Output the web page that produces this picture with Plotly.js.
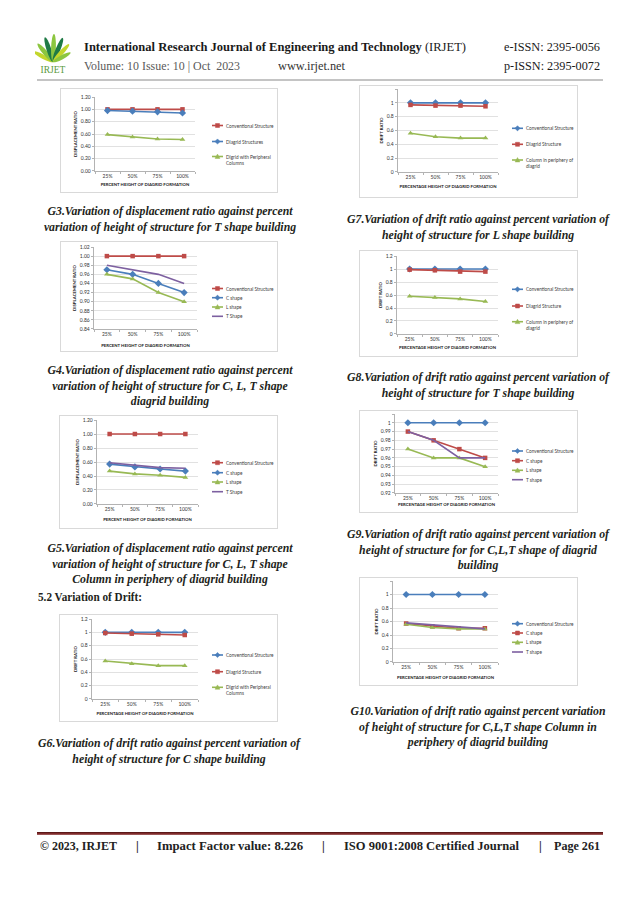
<!DOCTYPE html>
<html><head><meta charset="utf-8">
<script src="https://cdn.plot.ly/plotly-3.0.1.min.js"></script>
<style>
body{margin:0;background:#fff;width:638px;height:902px;position:relative;overflow:hidden;font-family:"Liberation Serif",serif;color:#222;}
.chart{position:absolute;border:1px solid #d9d9d9;box-sizing:border-box;background:#fff;}
.t{position:absolute;white-space:nowrap;}
.cap{position:absolute;width:340px;text-align:center;font-weight:bold;font-style:italic;font-size:11.5px;line-height:15.4px;color:#231f20;white-space:nowrap;}
</style></head><body>

<div id="logo" style="position:absolute;left:35px;top:30px;width:40px;height:46px;">
<svg width="40" height="46" viewBox="0 0 40 46">
 <g transform="translate(18,32)">
  <ellipse cx="0" cy="-11" rx="2.2" ry="11" fill="#c3d62c" transform="rotate(-62)"/>
  <ellipse cx="0" cy="-12" rx="2.4" ry="12" fill="#8cc63f" transform="rotate(-40)"/>
  <ellipse cx="0" cy="-13" rx="2.4" ry="13" fill="#1f7a45" transform="rotate(-18)"/>
  <ellipse cx="0" cy="-14" rx="2.4" ry="14" fill="#8cc63f" transform="rotate(2)"/>
  <ellipse cx="0" cy="-13" rx="2.4" ry="13" fill="#1f7a45" transform="rotate(22)"/>
  <ellipse cx="0" cy="-12" rx="2.3" ry="12" fill="#c3d62c" transform="rotate(42)"/>
  <ellipse cx="0" cy="-10" rx="2.1" ry="10" fill="#8cc63f" transform="rotate(62)"/>
 </g>
 <text x="18" y="43" text-anchor="middle" font-family="Liberation Serif" font-size="9.5" fill="#5a9a3c">IRJET</text>
</svg>
</div>

<div class="t" id="hTitle" style="left:84px;top:39px;font-size:13px;line-height:16px;color:#1a1a1a;"><b>International Research Journal of Engineering and Technology</b> (IRJET)</div>
<div class="t" id="hE" style="left:504px;top:39px;font-size:12px;line-height:16px;color:#1a1a1a;">e-ISSN: 2395-0056</div>
<div class="t" id="hVol" style="left:84px;top:58px;font-size:11.5px;line-height:16px;color:#595959;">Volume: 10 Issue: 10 | Oct&nbsp; 2023</div>
<div class="t" id="hWeb" style="left:278px;top:58px;font-size:11.5px;line-height:16px;color:#333;">www.irjet.net</div>
<div class="t" id="hP" style="left:504px;top:58px;font-size:12px;line-height:16px;color:#1a1a1a;">p-ISSN: 2395-0072</div>
<div style="position:absolute;left:37px;top:79px;width:566px;height:2px;background:#c4c4c4;"></div>

<div style="position:absolute;left:37px;top:832px;width:566px;height:3px;background:linear-gradient(#4a0e0e,#7e2a2a,#a86a6a);"></div>
<div class="t" id="f1" style="left:40px;top:838px;font-size:12.5px;line-height:16px;font-weight:bold;">© 2023, IRJET</div>
<div class="t" id="f2" style="left:136px;top:838px;font-size:12.5px;line-height:16px;font-weight:bold;">|</div>
<div class="t" id="f3" style="left:157px;top:838px;font-size:12.5px;line-height:16px;font-weight:bold;">Impact Factor value: 8.226</div>
<div class="t" id="f4" style="left:322px;top:838px;font-size:12.5px;line-height:16px;font-weight:bold;">|</div>
<div class="t" id="f5" style="left:344px;top:838px;font-size:12.5px;line-height:16px;font-weight:bold;">ISO 9001:2008 Certified Journal</div>
<div class="t" id="f6" style="left:539px;top:838px;font-size:12.5px;line-height:16px;font-weight:bold;">|</div>
<div class="t" id="f7" style="left:554px;top:838px;font-size:12.5px;line-height:16px;font-weight:bold;">Page 261</div>

<div class="t" id="sec52" style="left:38px;top:589px;font-size:12px;line-height:16px;font-weight:bold;color:#231f20;">5.2 Variation of Drift:</div>

<script>
// ---------------- DATA ----------------
const xCats = ['25%', '50%', '75%', '100%'];

// G3 – displacement ratio, T shape
const g3Names = ['Conventional Structure', 'Diagrid Structures', 'Digrid with Peripheral<br>Columns'];
const g3Conventional = [1.00, 1.00, 1.00, 1.00];
const g3Diagrid      = [0.98, 0.97, 0.96, 0.94];
const g3Peripheral   = [0.59, 0.55, 0.52, 0.51];

// G4 – displacement ratio, C/L/T diagrid
const g4Names = ['Conventional Structure', 'C shape', 'L shape', 'T Shape'];
const g4Conventional = [1.00, 1.00, 1.00, 1.00];
const g4C = [0.97, 0.96, 0.94, 0.92];
const g4L = [0.96, 0.95, 0.92, 0.90];
const g4T = [0.98, 0.97, 0.96, 0.94];

// G5 – displacement ratio, C/L/T column in periphery
const g5Names = ['Conventional Structure', 'C shape', 'L shape', 'T Shape'];
const g5Conventional = [1.00, 1.00, 1.00, 1.00];
const g5C = [0.57, 0.53, 0.50, 0.47];
const g5L = [0.47, 0.43, 0.41, 0.38];
const g5T = [0.59, 0.55, 0.52, 0.51];

// G6 – drift ratio, C shape
const g6Names = ['Conventional Structure', 'Diagrid Structure', 'Digrid with Peripheral<br>Columns'];
const g6Conventional = [1.00, 1.00, 1.00, 1.00];
const g6Diagrid      = [0.99, 0.98, 0.97, 0.96];
const g6Peripheral   = [0.57, 0.53, 0.50, 0.50];

// G7 – drift ratio, L shape
const g7Names = ['Conventional Structure', 'Diagrid Structure', 'Column in periphery of<br>diagrid'];
const g7Conventional = [1.00, 1.00, 1.00, 1.00];
const g7Diagrid      = [0.97, 0.96, 0.96, 0.95];
const g7Column       = [0.56, 0.51, 0.49, 0.49];

// G8 – drift ratio, T shape
const g8Names = ['Conventional Structure', 'Diagrid Structure', 'Column in periphery of<br>diagrid'];
const g8Conventional = [1.00, 1.00, 1.00, 1.00];
const g8Diagrid      = [0.99, 0.98, 0.96, 0.96];
const g8Column       = [0.58, 0.56, 0.54, 0.50];

// G9 – drift ratio, C/L/T diagrid
const g9Names = ['Conventional Structure', 'C shape', 'L shape', 'T shape'];
const g9Conventional = [1.00, 1.00, 1.00, 1.00];
const g9C = [0.99, 0.98, 0.97, 0.96];
const g9L = [0.97, 0.96, 0.96, 0.95];
const g9T = [0.99, 0.98, 0.96, 0.96];

// G10 – drift ratio, C/L/T column in periphery
const g10Names = ['Conventional Structure', 'C shape', 'L shape', 'T shape'];
const g10Conventional = [1.00, 1.00, 1.00, 1.00];
const g10C = [0.57, 0.53, 0.50, 0.50];
const g10L = [0.56, 0.51, 0.49, 0.49];
const g10T = [0.58, 0.55, 0.53, 0.49];

// Axis titles and captions
const dispTitle = 'DISPLACEMENT RATIO', driftTitle = 'DRIFT RATIO';
const xTitlePercent = 'PERCENT HEIGHT OF DIAGRID FORMATION';
const xTitlePercentage = 'PERCENTAGE HEIGHT OF DIAGRID FORMATION';
const captions = {
  g3: ['G3.Variation of displacement ratio against percent', 'variation of height of structure for T shape building'],
  g4: ['G4.Variation of displacement ratio against percent', 'variation of height of structure for C, L, T shape', 'diagrid building'],
  g5: ['G5.Variation of displacement ratio against percent', 'variation of height of structure for C, L, T shape', 'Column in periphery of diagrid building'],
  g6: ['G6.Variation of drift ratio against percent variation of', 'height of structure for C shape building'],
  g7: ['G7.Variation of drift ratio against percent variation of', 'height of structure for L shape building'],
  g8: ['G8.Variation of drift ratio against percent variation of', 'height of structure for T shape building'],
  g9: ['G9.Variation of drift ratio against percent variation of', 'height of structure for for C,L,T shape of diagrid', 'building'],
  g10: ['G10.Variation of drift ratio against percent variation', 'of height of structure for C,L,T shape Column in', 'periphery of diagrid building']
};

// ---------------- STYLE ----------------
const BLUE = '#4a7ebb', RED = '#be4b48', GREEN = '#98b954', PURPLE = '#7d60a0';
const ST = {
  sq:  {color: RED, symbol: 'square', size: 4.5},
  di:  {color: BLUE, symbol: 'diamond', size: 5.5},
  tr:  {color: GREEN, symbol: 'triangle-up', size: 5},
  pu:  {color: PURPLE, symbol: null, size: 0}
};
const FONT = 'Lato, "Liberation Sans", Arial, sans-serif';

function ser(names, arrs, styles) {
  return arrs.map((a, i) => Object.assign({name: names[i], y: a}, ST[styles[i]]));
}

const charts = [
  {frame: [60, 88, 278, 193], plot: [95, 97, 195, 171], yr: [0, 1.2], dt: 0.2, fmt: '.2f', xs: 5,
   yt: dispTitle, xt: xTitlePercent, legX: 212, legY: [125.5, 141.5, 156.5],
   series: ser(g3Names, [g3Conventional, g3Diagrid, g3Peripheral], ['sq', 'di', 'tr'])},
  {frame: [60, 241, 278, 352], plot: [94, 247, 197, 329], yr: [0.84, 1.02], dt: 0.02, fmt: '.2f', xs: 8,
   yt: dispTitle, xt: xTitlePercent, legX: 212, legY: [288.5, 297.7, 307, 316.3],
   series: ser(g4Names, [g4Conventional, g4C, g4L, g4T], ['sq', 'di', 'tr', 'pu'])},
  {frame: [59, 415, 278, 529], plot: [97, 420, 198, 504], yr: [0, 1.2], dt: 0.2, fmt: '.2f', xs: 7,
   yt: dispTitle, xt: xTitlePercent, legX: 212, legY: [462.7, 472.7, 482, 491.7],
   series: ser(g5Names, [g5Conventional, g5C, g5L, g5T], ['sq', 'di', 'tr', 'pu'])},
  {frame: [59, 614, 278, 722], plot: [92, 619, 198, 699], yr: [0, 1.2], dt: 0.2, fmt: '', xs: 6,
   yt: driftTitle, xt: xTitlePercentage, legX: 212, legY: [655, 671.7, 687.3],
   series: ser(g6Names, [g6Conventional, g6Diagrid, g6Peripheral], ['di', 'sq', 'tr'])},
  {frame: [359, 85, 578, 198], plot: [398, 89, 498, 172], yr: [0, 1.2], dt: 0.2, fmt: '', xs: 6,
   yt: driftTitle, xt: xTitlePercentage, legX: 512, legY: [128.3, 144.3, 160],
   series: ser(g7Names, [g7Conventional, g7Diagrid, g7Column], ['di', 'sq', 'tr'])},
  {frame: [359, 250, 578, 357], plot: [397, 256, 498, 334], yr: [0, 1.2], dt: 0.2, fmt: '', xs: 5,
   yt: driftTitle, xt: xTitlePercentage, legX: 512, legY: [289.3, 306, 321.7],
   series: ser(g8Names, [g8Conventional, g8Diagrid, g8Column], ['di', 'sq', 'tr'])},
  {frame: [359, 410, 578, 513], plot: [395, 414, 498, 493], yr: [0.92, 1.01], dt: 0.01, fmt: '', xs: 3,
   yt: driftTitle, xt: xTitlePercentage, legX: 512, legY: [451, 460.7, 470.3, 479.7],
   series: ser(g9Names, [g9Conventional, g9C, g9L, g9T], ['di', 'sq', 'tr', 'pu'])},
  {frame: [359, 577, 578, 686], plot: [393, 581, 498, 662], yr: [0, 1.2], dt: 0.2, fmt: '', xs: 7,
   yt: driftTitle, xt: xTitlePercentage, legX: 512, legY: [623.7, 633, 642.3, 652],
   series: ser(g10Names, [g10Conventional, g10C, g10L, g10T], ['di', 'sq', 'tr', 'pu'])}
];

function markerPts(sym, cx, cy) {
  if (sym === 'square') { const h = 2; return [[cx-h,cy-h],[cx+h,cy-h],[cx+h,cy+h],[cx-h,cy+h]]; }
  if (sym === 'diamond') { const h = 2.6; return [[cx,cy-h],[cx+h,cy],[cx,cy+h],[cx-h,cy]]; }
  if (sym === 'triangle-up') { const h = 2.4; return [[cx,cy-h],[cx+h,cy+h*0.8],[cx-h,cy+h*0.8]]; }
  return null;
}

function makeChart(c) {
  const div = document.createElement('div');
  div.className = 'chart';
  const W = c.frame[2] - c.frame[0], H = c.frame[3] - c.frame[1];
  div.style.left = c.frame[0] + 'px'; div.style.top = c.frame[1] + 'px';
  div.style.width = W + 'px'; div.style.height = H + 'px';
  document.body.appendChild(div);
  const l = c.plot[0] - c.frame[0], t = c.plot[1] - c.frame[1];
  const r = c.frame[2] - c.plot[2], b = c.frame[3] - c.plot[3];
  const pw = c.plot[2] - c.plot[0], ph = c.plot[3] - c.plot[1];
  const X = v => (v - c.plot[0]) / pw;
  const Y = v => 1 - (v - c.plot[1]) / ph;

  const traces = c.series.map(s => {
    const tr = {
      x: xCats, y: s.y, type: 'scatter', name: s.name.replace('<br>', ' '),
      mode: s.symbol ? 'lines+markers' : 'lines',
      line: {color: s.color, width: 1.6},
      hoverinfo: 'skip', showlegend: false
    };
    if (s.symbol) tr.marker = {symbol: s.symbol, size: s.size, color: s.color};
    return tr;
  });

  const shapes = [], anns = [];
  c.series.forEach((s, i) => {
    const yy = c.legY[i];
    shapes.push({type: 'line', xref: 'paper', yref: 'paper', x0: X(c.legX), x1: X(c.legX + 11),
      y0: Y(yy), y1: Y(yy), line: {color: s.color, width: 1.6}});
    const pts = markerPts(s.symbol, c.legX + 5.5, yy);
    if (pts) {
      const path = pts.map((p, k) => (k ? 'L' : 'M') + X(p[0]) + ',' + Y(p[1])).join(' ') + ' Z';
      shapes.push({type: 'path', xref: 'paper', yref: 'paper', path: path,
        fillcolor: s.color, line: {color: s.color, width: 0.5}});
    }
    const multi = s.name.indexOf('<br>') >= 0;
    anns.push({xref: 'paper', yref: 'paper', x: X(c.legX + 12.5), y: multi ? Y(yy - 4) : Y(yy),
      xanchor: 'left', yanchor: multi ? 'top' : 'middle', align: 'left', showarrow: false,
      text: s.name, borderpad: 0, font: {family: FONT, size: 4.7, color: '#404040'}});
  });

  const eps = (c.yr[1] - c.yr[0]) * 1e-4;
  const layout = {
    width: W - 2, height: H - 2,
    margin: {l: l - 1, r: r - 1, t: t - 1, b: b - 1, pad: 0},
    paper_bgcolor: '#fff', plot_bgcolor: '#fff',
    font: {family: FONT, size: 5, color: '#333'},
    showlegend: false,
    xaxis: {type: 'category', range: [-0.5, 3.5], showline: true, linecolor: '#a0a0a0', linewidth: 0.8,
      ticks: 'outside', tickson: 'boundaries', ticklen: 2.5, tickcolor: '#a0a0a0', tickwidth: 0.8,
      tickfont: {size: 5, color: '#333'}, showgrid: false, zeroline: false, automargin: false,
      title: {text: c.xt, font: {size: 4.3, weight: 'bold', color: '#222'}, standoff: c.xs}},
    yaxis: {range: [c.yr[0] - eps, c.yr[1] + eps], tick0: c.yr[0], dtick: c.dt, tickformat: c.fmt,
      showline: true, linecolor: '#a0a0a0', linewidth: 0.8, ticks: 'outside', ticklen: 2.5,
      tickcolor: '#a0a0a0', tickwidth: 0.8, showgrid: true, gridcolor: '#d9d9d9', gridwidth: 0.8,
      zeroline: false, automargin: false, tickfont: {size: 5, color: '#333'},
      title: {text: c.yt, font: {size: 4.3, weight: 'bold', color: '#222'}, standoff: 3}},
    shapes: shapes, annotations: anns
  };
  Plotly.newPlot(div, traces, layout, {staticPlot: true, displayModeBar: false});
}
charts.forEach(makeChart);

// Captions
const capPos = {g3: [170, 212], g4: [170, 371], g5: [170, 549], g6: [169, 744],
                g7: [478, 220], g8: [478, 378], g9: [478, 535], g10: [478, 712]};
const capEls = [];
Object.keys(captions).forEach(k => {
  const d = document.createElement('div');
  d.className = 'cap';
  d.style.left = (capPos[k][0] - 170) + 'px';
  d.style.top = (capPos[k][1] - 7.7) + 'px';
  d.innerHTML = captions[k].map(s => '<div><span>' + s + '</span></div>').join('');
  document.body.appendChild(d);
  capEls.push(d);
});
const refW = capEls[0].querySelector('span').getBoundingClientRect().width;
const capScale = 245 / refW;
capEls.forEach(d => { d.style.transform = 'scaleX(' + capScale + ')'; d.style.transformOrigin = '50% 0'; });

function fit(id, w) {
  const el = document.getElementById(id);
  const cw = el.getBoundingClientRect().width;
  el.style.transformOrigin = '0 50%';
  el.style.transform = 'scaleX(' + (w / cw) + ')';
}
fit('hTitle', 382); fit('hE', 96); fit('hVol', 156); fit('hWeb', 67); fit('hP', 96);
fit('f1', 77); fit('f3', 146); fit('f5', 175); fit('f7', 46); fit('sec52', 104);
</script>
</body></html>
